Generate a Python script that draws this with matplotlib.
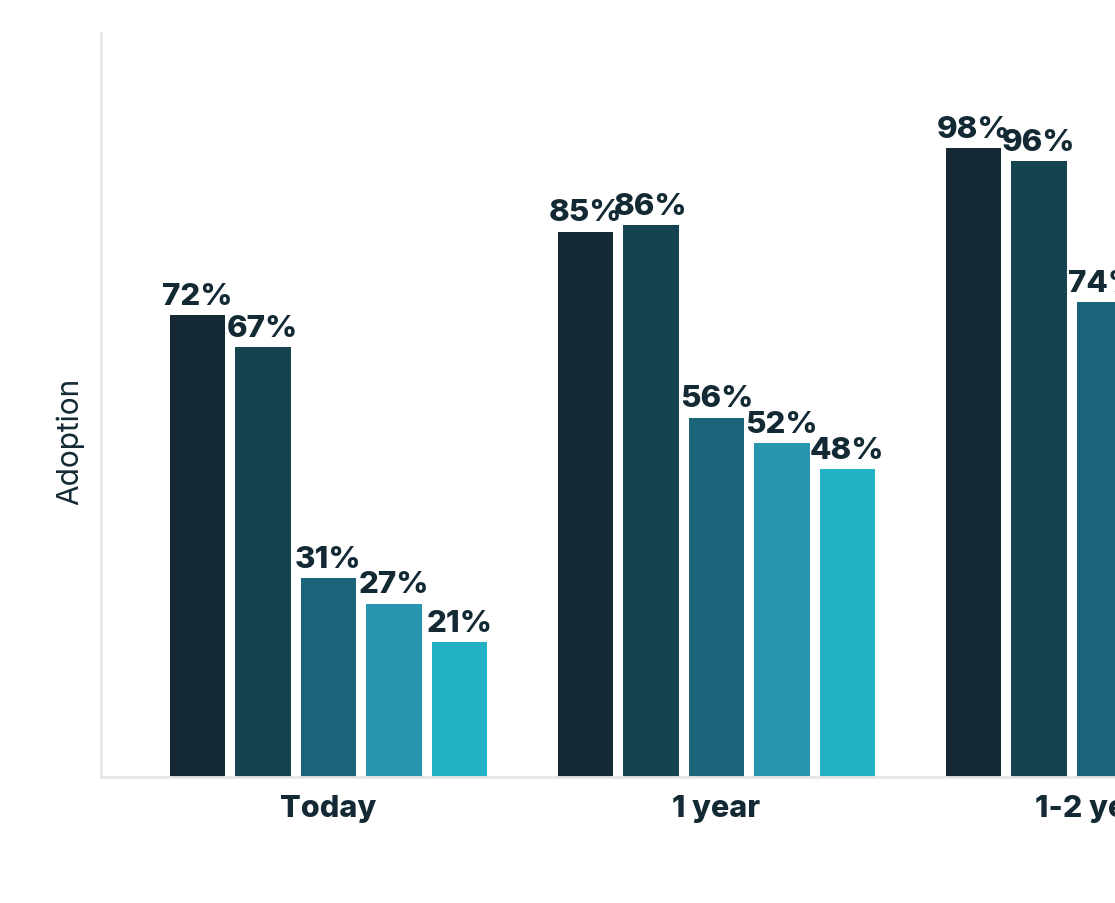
import matplotlib.pyplot as plt
import numpy as np

# horizons along the bottom (the third group is cut off at the right edge)
horizons = ['Today', '1 year', '1-2 years']

# adoption (%) per series, one value per horizon; None = not visible
series_a = [72, 85, 98]
series_b = [67, 86, 96]
series_c = [31, 56, 74]
series_d = [27, 52, None]
series_e = [21, 48, None]
all_series = [series_a, series_b, series_c, series_d, series_e]

colors = ['#142933', '#15434f', '#1c6479', '#2996b0', '#22b1c5']
ink = '#132a35'

plt.rcParams['font.family'] = ['Inter', 'DejaVu Sans']

fig = plt.figure(figsize=(11.15, 9.04), dpi=100)
# axes run past the right edge of the picture, like the cropped original
ax = fig.add_axes([101 / 1115, 126 / 904, 1.18, 744 / 904])

x = np.arange(len(horizons))
step = 0.1688
width = 0.143

for i, (vals, c) in enumerate(zip(all_series, colors)):
    for j, v in enumerate(vals):
        if v is None:
            continue
        xpos = x[j] + (i - 2) * step
        ax.bar(xpos, v, width=width, color=c)
        ax.annotate(f'{v}%', (xpos, v), xytext=(0, 4), textcoords='offset points',
                    ha='center', va='bottom', fontsize=22.5, fontweight='heavy', color=ink)

ax.set_xlim(-0.586, -0.586 + 1.18 * 1115 / 388)
ax.set_ylim(0, 116)

ax.set_xticks(x)
ax.set_xticklabels(horizons, fontsize=22, fontweight='heavy', color=ink)
ax.set_yticks([])
ax.tick_params(axis='x', length=0, pad=12)
ax.set_ylabel('Adoption', fontsize=21.5, color=ink)
ax.yaxis.set_label_coords(-0.013, 0.453)

for s in ['top', 'right']:
    ax.spines[s].set_visible(False)
for s in ['left', 'bottom']:
    ax.spines[s].set_color('#e6e6e6')
    ax.spines[s].set_linewidth(2)

fig.savefig('out.png', dpi=100)
